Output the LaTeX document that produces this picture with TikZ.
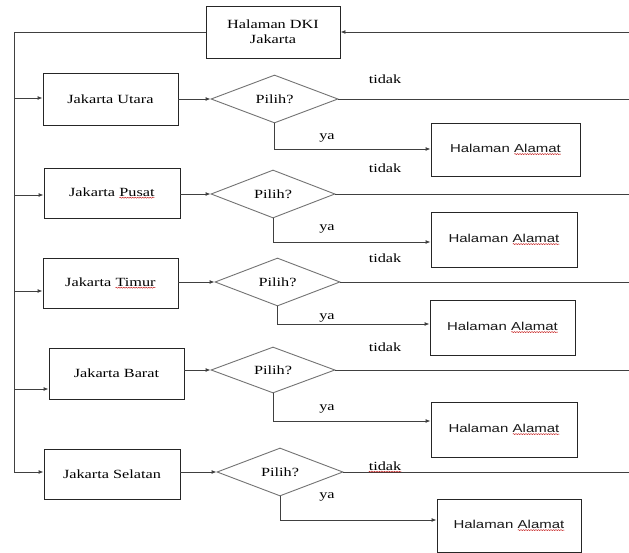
\documentclass[tikz,border=0pt]{standalone}
\usepackage{fontspec}
\setmainfont[FakeStretch=1.3]{Liberation Serif}
\newfontfamily\alsans[FakeStretch=1.3]{Liberation Sans}
\usetikzlibrary{shapes.geometric,arrows.meta,decorations.pathmorphing}
\newcommand\redwave[1]{\tikz[baseline=(w.base)]{\node[shape=rectangle,inner sep=0pt,outer sep=0pt,draw=none,
    minimum width=0pt,minimum height=0pt,anchor=center](w){#1};
  \draw[red!75!black, line width=0.4pt, decorate, decoration={snake, amplitude=0.5pt, segment length=2.5pt}]
  ([yshift=-1.5pt]w.base west) -- ([yshift=-1.5pt]w.base east);}}
\tikzset{
  box/.style={draw=black!85, line width=0.9pt, inner sep=2pt, align=center,
    font=\fontsize{12.5}{15}\selectfont, text=black},
  abox/.style={box, font=\alsans\fontsize{11.5}{14}\selectfont, text=black!90},
  dia/.style={diamond, draw=black!55, line width=0.9pt, inner sep=0pt, aspect=2.6,
    font=\fontsize{12.5}{15}\selectfont, text=black},
  lbl/.style={inner sep=0pt, font=\fontsize{12.5}{15}\selectfont, text=black},
  ln/.style={draw=black!75, line width=0.9pt},
  arr/.style={ln, -{Latex[length=5pt,width=4pt]}},
}
\begin{document}
\begin{tikzpicture}[x=1pt,y=-1pt]
\useasboundingbox[fill=white] (0,0) rectangle (629,553);

% top box
\node[box, minimum width=134pt, minimum height=52pt] (dki) at (273,32) {Halaman DKI\\Jakarta};

% district boxes
\node[box, minimum width=135pt, minimum height=52pt] (utara) at (110.5,99) {Jakarta Utara};
\node[box, minimum width=136pt, minimum height=50pt] (pusat) at (112,193) {Jakarta \redwave{Pusat}};
\node[box, minimum width=135pt, minimum height=50pt] (timur) at (110.5,283) {Jakarta \redwave{Timur}};
\node[box, minimum width=135pt, minimum height=51pt] (barat) at (116.5,373.5) {Jakarta Barat};
\node[box, minimum width=136pt, minimum height=50pt] (selatan) at (112,474) {Jakarta Selatan};

% diamonds
\node[dia, minimum width=127pt, minimum height=48pt] (d1) at (274.5,99) {Pilih?};
\node[dia, minimum width=124pt, minimum height=48pt] (d2) at (273,194) {Pilih?};
\node[dia, minimum width=125pt, minimum height=48pt] (d3) at (277.5,282) {Pilih?};
\node[dia, minimum width=124pt, minimum height=46pt] (d4) at (273,370) {Pilih?};
\node[dia, minimum width=126pt, minimum height=48pt] (d5) at (280,472) {Pilih?};

% address boxes
\node[abox, minimum width=149pt, minimum height=53pt] (a1) at (505.5,149.5) {Halaman \redwave{Alamat}};
\node[abox, minimum width=146pt, minimum height=55pt] (a2) at (504,239.5) {Halaman \redwave{Alamat}};
\node[abox, minimum width=145pt, minimum height=55pt] (a3) at (502.5,327.5) {Halaman \redwave{Alamat}};
\node[abox, minimum width=146pt, minimum height=55pt] (a4) at (504,429.5) {Halaman \redwave{Alamat}};
\node[abox, minimum width=144pt, minimum height=53pt] (a5) at (509,525.5) {Halaman \redwave{Alamat}};

% left bus
\coordinate (top) at (14,32);
\coordinate (l1) at (14,98);
\coordinate (l2) at (14,195);
\coordinate (l3) at (14,291);
\coordinate (l4) at (14,389);
\coordinate (l5) at (14,472);
\draw[ln] (dki.west) -- (top) -- (l5);
\draw[arr] (l1) -- (utara.west |- l1);
\draw[arr] (l2) -- (pusat.west |- l2);
\draw[arr] (l3) -- (timur.west |- l3);
\draw[arr] (l4) -- (barat.west |- l4);
\draw[arr] (l5) -- (selatan.west |- l5);

% right return
\coordinate (r0) at (629,32);
\draw[arr] (r0) -- (dki.east);

% box -> diamond
\draw[arr] (utara.east) -- (d1.west);
\draw[arr] (pusat.east |- d2.west) -- (d2.west);
\draw[arr] (timur.east |- d3.west) -- (d3.west);
\draw[arr] (barat.east |- d4.west) -- (d4.west);
\draw[arr] (selatan.east |- d5.west) -- (d5.west);

% tidak lines
\coordinate (r1) at (629,99);
\coordinate (r2) at (629,194);
\coordinate (r3) at (629,282);
\coordinate (r4) at (629,370);
\coordinate (r5) at (629,472);
\draw[ln] (d1.east) -- (r1);
\draw[ln] (d2.east) -- (r2);
\draw[ln] (d3.east) -- (r3);
\draw[ln] (d4.east) -- (r4);
\draw[ln] (d5.east) -- (r5);

\node[lbl] (t1) at (385,79) {tidak};
\node[lbl] (t2) at (385,168) {tidak};
\node[lbl] (t3) at (385,258) {tidak};
\node[lbl] (t4) at (385,347) {tidak};
\node[lbl] (t5) at (385,467) {\redwave{tidak}};

% ya branches
\draw[arr] (d1.south) |- (a1.west |- 0,149);
\draw[arr] (d2.south) |- (a2.west |- 0,242);
\draw[arr] (d3.south) |- (a3.west |- 0,324);
\draw[arr] (d4.south) |- (a4.west |- 0,421);
\draw[arr] (d5.south) |- (a5.west |- 0,520);

\node[lbl] (y1) at (327,138) {ya};
\node[lbl] (y2) at (327,229) {ya};
\node[lbl] (y3) at (327,318) {ya};
\node[lbl] (y4) at (327,409) {ya};
\node[lbl] (y5) at (327,497) {ya};
\end{tikzpicture}
\end{document}
